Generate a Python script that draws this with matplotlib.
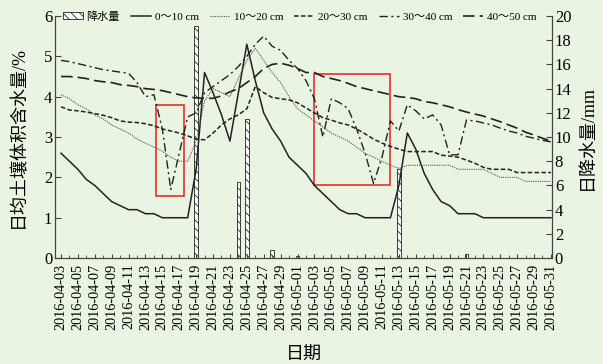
import numpy as np
import pandas as pd
import matplotlib
matplotlib.use('Agg')
import matplotlib.pyplot as plt
import matplotlib.dates as mdates
from matplotlib.patches import Rectangle, Patch

plt.rcParams['font.family'] = ['Liberation Serif', 'Noto Sans CJK SC']
plt.rcParams['hatch.linewidth'] = 0.6

# 日期
dates = pd.date_range('2016-04-03', '2016-05-31', freq='D')

# 各层土壤体积含水量 /%
sm_0_10 = [2.6, 2.4, 2.2, 1.95, 1.8, 1.6, 1.4, 1.3, 1.2, 1.2, 1.1, 1.1, 1.0, 1.0, 1.0, 1.0,
           2.2, 4.6, 4.1, 3.55, 2.9, 4.1, 5.3, 4.4, 3.6, 3.2, 2.9, 2.5, 2.3, 2.1,
           1.8, 1.6, 1.4, 1.2, 1.1, 1.1, 1.0, 1.0, 1.0, 1.0,
           1.8, 3.1, 2.7, 2.1, 1.7, 1.4, 1.3, 1.1, 1.1, 1.1, 1.0,
           1.0, 1.0, 1.0, 1.0, 1.0, 1.0, 1.0, 1.0]
sm_10_20 = [4.05, 3.95, 3.8, 3.7, 3.55, 3.45, 3.3, 3.2, 3.1, 2.95, 2.85, 2.75, 2.65, 2.5, 2.4, 2.4,
            2.9, 3.9, 4.2, 4.1, 4.0, 4.45, 4.9, 5.2, 4.9, 4.6, 4.35, 4.0, 3.7, 3.55,
            3.4, 3.25, 3.1, 3.0, 2.9, 2.75, 2.6, 2.5, 2.4, 2.3,
            2.22, 2.3, 2.3, 2.3, 2.3, 2.3, 2.3, 2.2, 2.2, 2.2, 2.2,
            2.1, 2.0, 2.0, 2.0, 1.9, 1.9, 1.9, 1.9]
sm_20_30 = [3.75, 3.67, 3.65, 3.62, 3.58, 3.54, 3.48, 3.4, 3.37, 3.36, 3.33, 3.28, 3.2, 3.15, 3.1, 3.03,
            2.95, 2.93, 3.1, 3.3, 3.45, 3.55, 3.7, 4.25, 4.1, 3.98, 3.95, 3.92, 3.85, 3.72,
            3.6, 3.48, 3.42, 3.35, 3.3, 3.2, 3.08, 2.95, 2.85, 2.77,
            2.7, 2.64, 2.64, 2.64, 2.64, 2.55, 2.53, 2.5, 2.43, 2.35, 2.25,
            2.2, 2.2, 2.2, 2.12, 2.12, 2.12, 2.12, 2.12]
sm_30_40 = [4.9, 4.87, 4.82, 4.77, 4.72, 4.67, 4.64, 4.61, 4.58, 4.35, 4.0, 4.05, 3.2, 1.7, 2.6, 3.5,
            3.6, 4.1, 4.25, 4.4, 4.55, 4.75, 5.0, 5.3, 5.5, 5.25, 5.15, 4.9, 4.7, 4.4,
            3.95, 3.0, 3.95, 3.85, 3.7, 3.2, 2.6, 1.85, 2.5, 3.4,
            3.15, 3.8, 3.65, 3.45, 3.55, 3.3, 2.56, 2.56, 3.42, 3.4, 3.35,
            3.3, 3.22, 3.15, 3.1, 3.02, 2.97, 2.92, 2.88]
sm_40_50 = [4.5, 4.5, 4.48, 4.45, 4.4, 4.37, 4.35, 4.3, 4.28, 4.25, 4.2, 4.18, 4.15, 4.1, 4.05, 4.0,
            3.97, 3.96, 3.96, 4.02, 4.12, 4.2, 4.35, 4.5, 4.7, 4.8, 4.83, 4.78, 4.7, 4.6,
            4.6, 4.5, 4.45, 4.4, 4.33, 4.25, 4.2, 4.15, 4.1, 4.05,
            4.0, 3.98, 3.95, 3.88, 3.85, 3.8, 3.75, 3.68, 3.62, 3.57, 3.52,
            3.45, 3.38, 3.3, 3.22, 3.12, 3.05, 2.97, 2.9]

# 日降水量 /mm
rain_dates = ['2016-04-19', '2016-04-24', '2016-04-25', '2016-04-28',
              '2016-05-01', '2016-05-13', '2016-05-21']
rain_mm = [19.2, 6.3, 11.5, 0.7, 0.2, 7.4, 0.3]

# 红框 (起止时间, 含水量下限, 上限)
boxes = [('2016-04-14 05:00', '2016-04-17 14:00', 1.54, 3.8),
         ('2016-05-02 22:00', '2016-05-11 22:00', 1.8, 4.56)]

series = [
    ('0～10 cm', sm_0_10, '-', 1.1, '#222222'),
    ('10～20 cm', sm_10_20, (0, (1, 1)), 0.8, '#555555'),
    ('20～30 cm', sm_20_30, (0, (3, 1.5)), 1.1, '#222222'),
    ('30～40 cm', sm_30_40, (0, (6, 2.5, 1.5, 2.5)), 1.0, '#222222'),
    ('40～50 cm', sm_40_50, (0, (7, 3)), 1.2, '#222222'),
]

bg = '#eaf4e2'
fig = plt.figure(figsize=(6.03, 3.64), dpi=100, facecolor=bg)
ax = fig.add_axes([0.0912, 0.291, 0.8242, 0.665])
ax2 = ax.twinx()
ax.set_zorder(ax2.get_zorder() + 1)
ax.patch.set_visible(False)
ax2.set_facecolor(bg)

ax2.bar(pd.to_datetime(rain_dates), rain_mm, width=0.4, color='white',
        edgecolor='#222222', hatch='\\\\\\\\', linewidth=0.6)

handles = [Patch(facecolor='white', edgecolor='#222222', hatch='\\\\\\\\', linewidth=0.6)]
labels = ['降水量']
for name, vals, ls, lw, c in series:
    ln, = ax.plot(dates, vals, linestyle=ls, linewidth=lw, color=c)
    handles.append(ln)
    labels.append(name)

for x0, x1, y0, y1 in boxes:
    a = mdates.date2num(pd.Timestamp(x0))
    b = mdates.date2num(pd.Timestamp(x1))
    ax.add_patch(Rectangle((a, y0), b - a, y1 - y0, fill=False,
                           edgecolor='#e8302c', linewidth=1.2))

ax.set_xlim(dates[0] - pd.Timedelta(hours=17), dates[-1] + pd.Timedelta(hours=3))
ax.set_ylim(0, 6)
ax2.set_ylim(0, 20)
ax.set_yticks(range(0, 7))
ax2.set_yticks(range(0, 21, 2))
ax.set_xticks(dates[::2])
ax.set_xticks(dates, minor=True)
ax.xaxis.set_major_formatter(mdates.DateFormatter('%Y-%m-%d'))

for a_ in (ax, ax2):
    a_.spines['top'].set_visible(False)
    for s in ('left', 'right', 'bottom'):
        a_.spines[s].set_color('#444444')
        a_.spines[s].set_linewidth(0.8)

ax.tick_params(axis='x', which='major', direction='in', length=3, rotation=90,
               labelsize=10.3, pad=4, color='#444444')
ax.tick_params(axis='x', which='minor', direction='in', length=2, color='#444444')
ax.tick_params(axis='y', direction='in', length=4, labelsize=12, pad=2, color='#444444')
ax2.tick_params(axis='y', direction='in', length=4, labelsize=12, pad=2, color='#444444')

ax.set_ylabel('日均土壤体积含水量/%', fontsize=13, labelpad=12)
ax2.set_ylabel('日降水量/mm', fontsize=13, labelpad=5)
ax.set_xlabel('日期', fontsize=13, labelpad=12)

ax.legend(handles, labels, ncol=6, loc='center', bbox_to_anchor=(0.497, 0.955),
          bbox_transform=fig.transFigure, frameon=False, fontsize=8,
          handlelength=1.8, handleheight=0.6, handletextpad=0.35, columnspacing=1.0,
          borderpad=0.1)

fig.savefig('out.png', dpi=100, facecolor=bg)
